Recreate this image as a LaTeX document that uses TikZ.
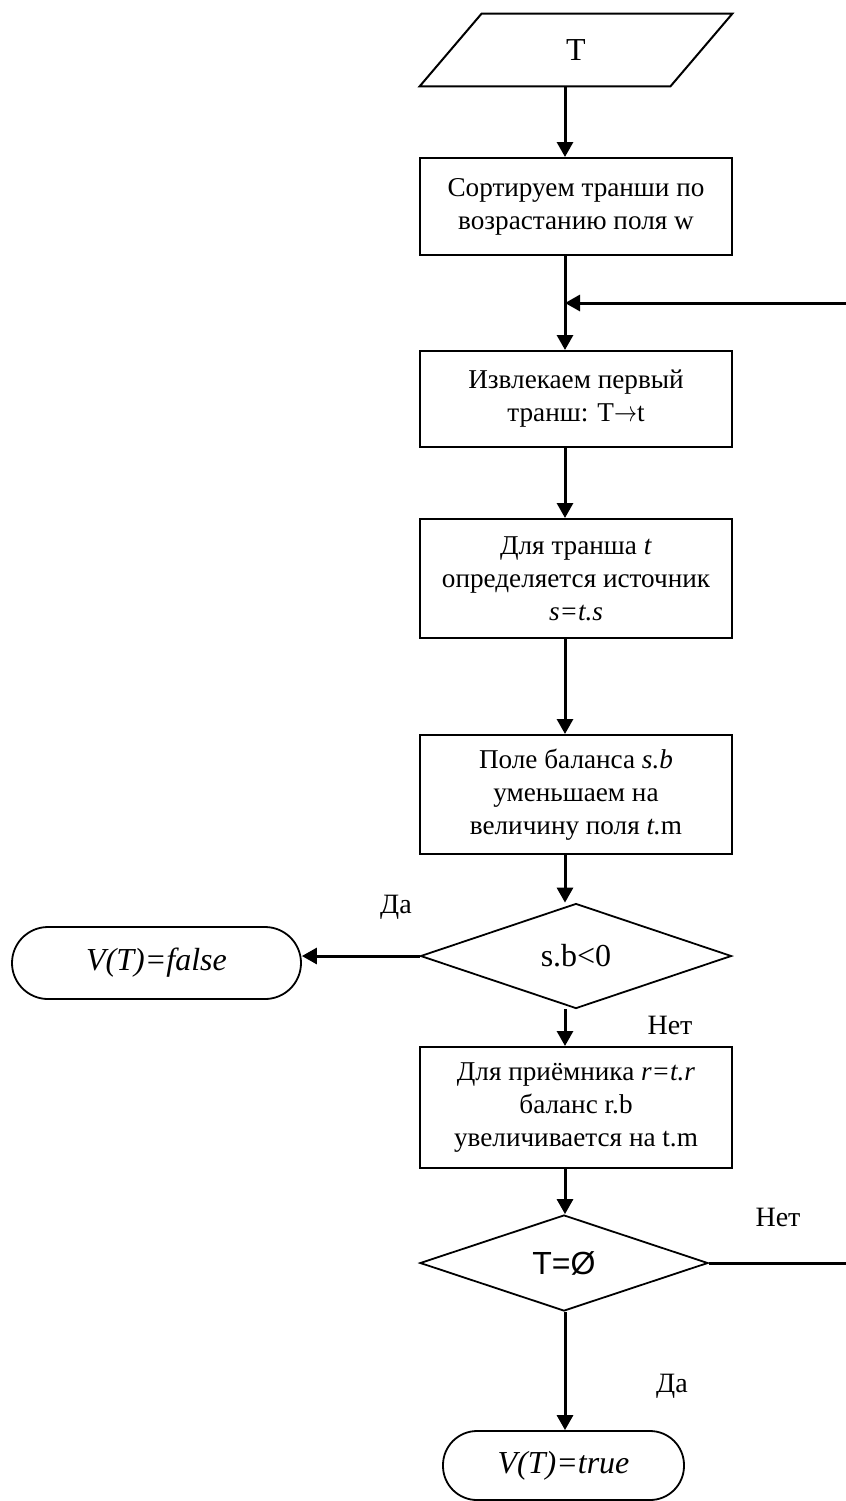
\documentclass[tikz,border=0pt]{standalone}
\usepackage{fontspec}
\setmainfont{Liberation Serif}
\newfontfamily\arialfont{Liberation Sans}
\usetikzlibrary{shapes.geometric,arrows.meta}
\tikzset{
  blk/.style={draw, line width=1pt, minimum width=156pt, align=center, inner sep=2pt, font=\fontsize{13.6}{16.5}\selectfont},
  cond/.style={draw, diamond, line width=0.9pt, inner sep=0pt, font=\fontsize{16}{18}\selectfont},
  term/.style={draw, line width=0.9pt, font=\fontsize{16}{18}\selectfont\itshape},
  arr/.style={line width=1.5pt, -{Triangle[length=7.5pt,width=8pt]}},
  lbl/.style={font=\fontsize{14}{16}\selectfont}
}

\begin{document}
\begin{tikzpicture}[x=0.5pt,y=-0.5pt]
\useasboundingbox (0,0) rectangle (846,1501);
\coordinate (spine) at (565,0);
\coordinate (join) at (565,303);

\node[minimum width=156pt, minimum height=36pt, font=\fontsize{16}{18}\selectfont] (inp) at (576,50) {T};
\draw[line width=1pt] (inp.south west) -- ([xshift=31pt]inp.north west) -- (inp.north east)
  -- ([xshift=-31pt]inp.south east) -- cycle;
\node[blk, minimum height=48.5pt] (sort) at (576,206.5) {Сортируем транши по\\возрастанию поля w};
\node[blk, minimum height=48pt] (take) at (576,399) {Извлекаем первый\\транш: T\scalebox{0.8}[1]{$\rightarrow$}t};
\node[blk, minimum height=59.5pt] (src) at (576,578.5) {Для транша \textit{t}\\определяется источник\\\textit{s=t.s}};
\node[blk, minimum height=59.5pt] (dec) at (576,794.5) {Поле баланса \textit{s.b}\\уменьшаем на\\величину поля \textit{t.}m};
\node[cond, minimum width=155.5pt, minimum height=52.5pt] (chk1) at (576,956) {s.b<0};
\node[term, rounded corners=18pt, minimum width=144.5pt, minimum height=36pt] (fls) at (156.5,963) {V(T)=false};
\node[blk, minimum height=60.5pt] (rcv) at (576,1107.5) {Для приёмника \textit{r=t.r}\\баланс r.b\\увеличивается на t.m};
\node[cond, minimum width=144pt, minimum height=48pt] (chk2) at (564,1263) {\arialfont T=Ø};
\node[term, rounded corners=17pt, minimum width=120.5pt, minimum height=34.5pt] (tru) at (563.5,1465.5) {V(T)=true};

% yes / no
\foreach \n/\x/\y/\t in {1/396/907/Да, 2/670/1025/Нет, 3/778/1217/Нет, 4/672/1386/Да}
  \node[lbl] (ans\n) at (\x,\y) {\t};

\draw[arr] (inp.south -| spine) -- (sort.north -| spine);
\draw[arr] (sort.south -| spine) -- (take.north -| spine);
\foreach \a/\b in {take/src, src/dec, dec/chk1, chk1/rcv, rcv/chk2, chk2/tru}
  \draw[arr] (\a.south -| spine) -- (\b.north -| spine);
\draw[arr] (chk1.west) -- (chk1.west -| fls.east);
\draw[arr] (chk2.east) -- ++(150,0) |- (join);
\end{tikzpicture}
\end{document}
